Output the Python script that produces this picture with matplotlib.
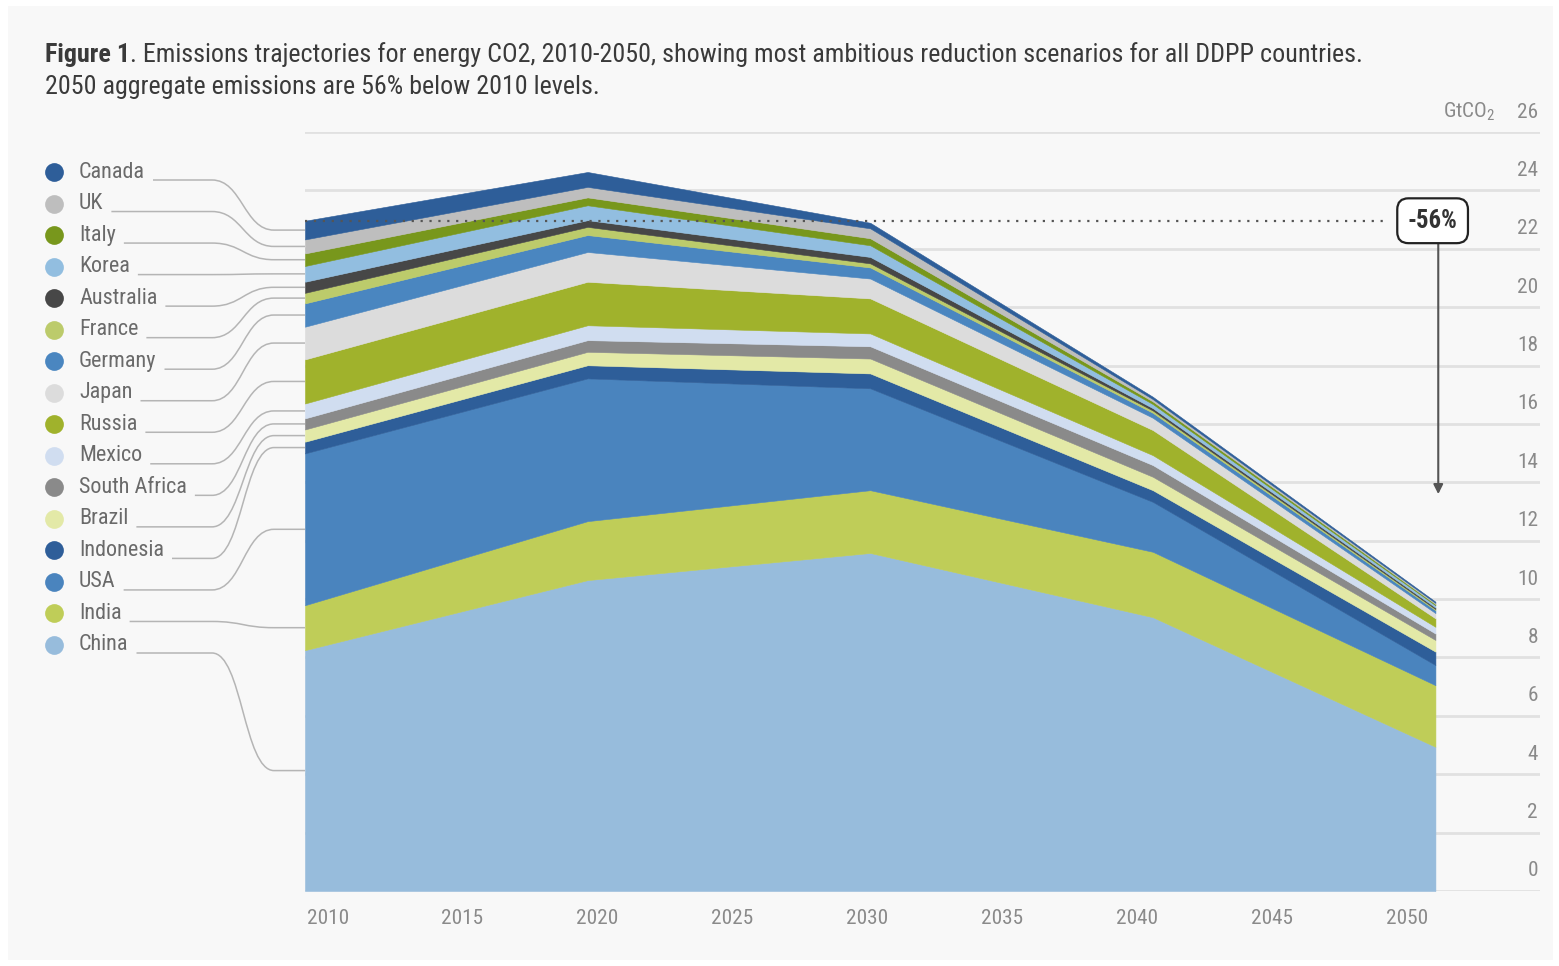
"""DDPP energy CO2 trajectories, stacked by country (2010-2050)"""

import matplotlib
matplotlib.use('Agg')
import matplotlib.pyplot as plt
import numpy as np
from matplotlib import font_manager
from matplotlib.path import Path
from matplotlib.patches import PathPatch, Rectangle
from matplotlib.transforms import offset_copy

# --- data (GtCO2), bottom of the stack first ---
years = [2010, 2020, 2030, 2040, 2050]
countries = ['China', 'India', 'USA', 'Indonesia', 'Brazil', 'South Africa', 'Mexico',
             'Russia', 'Japan', 'Germany', 'France', 'Australia', 'Korea', 'Italy', 'UK', 'Canada']
china = [8.25, 10.65, 11.58, 9.38, 4.94]
india = [1.54, 2.02, 2.15, 2.24, 2.11]
usa = [5.20, 4.89, 3.49, 1.71, 0.69]
indonesia = [0.40, 0.45, 0.51, 0.40, 0.46]
brazil = [0.42, 0.46, 0.51, 0.46, 0.40]
south_africa = [0.38, 0.40, 0.42, 0.40, 0.22]
mexico = [0.51, 0.51, 0.44, 0.34, 0.23]
russia = [1.51, 1.49, 1.20, 0.86, 0.29]
japan = [1.12, 1.02, 0.68, 0.42, 0.18]
germany = [0.80, 0.58, 0.38, 0.17, 0.10]
france = [0.36, 0.28, 0.14, 0.08, 0.04]
australia = [0.38, 0.23, 0.22, 0.08, 0.05]
korea = [0.54, 0.51, 0.40, 0.14, 0.08]
italy = [0.43, 0.27, 0.24, 0.09, 0.04]
uk = [0.48, 0.36, 0.34, 0.08, 0.04]
canada = [0.64, 0.51, 0.19, 0.08, 0.04]
series = [china, india, usa, indonesia, brazil, south_africa, mexico, russia,
          japan, germany, france, australia, korea, italy, uk, canada]
colors = ['#97bcdc', '#bfcd58', '#4a84be', '#2e5e99', '#e3e9a7', '#8a8a8a', '#d0ddf0',
          '#a0b22c', '#dcdcdc', '#4a86c0', '#bccb6b', '#474747', '#92bee0', '#78971c',
          '#bebebe', '#2e5e99']

y_ticks = list(range(0, 27, 2))
x_tick_labels = ['2010', '2015', '2020', '2025', '2030', '2035', '2040', '2045', '2050']
reduction_label = '-56%'
title_1 = ('. Emissions trajectories for energy CO2, 2010-2050, showing most ambitious '
           'reduction scenarios for all DDPP countries.')
title_2 = '2050 aggregate emissions are 56% below 2010 levels.'

# fonts: the original uses a condensed face, take the narrowest one installed
names = {f.name for f in font_manager.fontManager.ttflist}
wanted = ['Roboto Condensed', 'Noto Sans Condensed', 'Open Sans Condensed',
          'Liberation Sans Narrow', 'Liberation Sans', 'Roboto', 'DejaVu Sans']
cond = next(n for n in wanted if n in names or n == 'DejaVu Sans')
plt.rcParams['font.family'] = [cond, 'DejaVu Sans']
plt.rcParams['mathtext.default'] = 'regular'

W, H = 1559, 966
fig = plt.figure(figsize=(W / 100, H / 100), dpi=100, facecolor='white')
fig.canvas.draw()
renderer = fig.canvas.get_renderer()


def fit_size(text, target_px, weight='normal'):
    """font size (pt) that makes text about target_px wide"""
    t = fig.text(0, 0, text, fontsize=20, fontweight=weight)
    w = t.get_window_extent(renderer).width
    t.remove()
    return 20 * target_px / w


# background overlay in pixel coords (origin top-left)
bg = fig.add_axes([0, 0, 1, 1])
bg.set_xlim(0, W)
bg.set_ylim(H, 0)
bg.axis('off')
bg.add_patch(Rectangle((8, 6), 1545, 954, facecolor='#f8f8f8', edgecolor='none', zorder=0))

tick_fs = min(fit_size('2010', 42), 17)
legend_fs = min(fit_size('South Africa', 108), 17)
title_fs = fit_size('Figure 1' + title_1, 1312)
box_fs = min(fit_size(reduction_label, 50, 'bold'), 19)

# main axes
ax = fig.add_axes([305 / W, 1 - 891 / H, (1540 - 305) / W, (891 - 132) / H])
ax.set_facecolor('none')
ax.set_xlim(2010, 2053.7)
ax.set_ylim(0, 26)
for s in ax.spines.values():
    s.set_visible(False)

for v in y_ticks:
    ax.axhline(v, color='#e1e1e1', lw=2, zorder=0)

stack = np.cumsum(np.array(series), axis=0)
lower = np.zeros(len(years))
for top, c in zip(stack, colors):
    ax.fill_between(years, lower, top, color=c, lw=0.4, edgecolor=c, zorder=2)
    lower = top

# y tick labels sit above their grid lines, at the right
lab_tr = offset_copy(ax.transData, fig=fig, x=-2, y=20, units='dots')
for v in y_ticks:
    ax.text(2053.7, v, str(v), transform=lab_tr, ha='right', va='center',
            fontsize=tick_fs, color='#8a8a8a', clip_on=False)
ax.text(2052.2, 26, 'GtCO$_2$', transform=lab_tr, ha='right', va='center',
        fontsize=tick_fs, color='#8a8a8a', clip_on=False)

ax.set_yticks([])
ax.set_xticks(np.linspace(2010.8, 2049.0, 9), x_tick_labels)
ax.tick_params(axis='x', length=0, pad=13, labelsize=tick_fs, labelcolor='#8a8a8a')

# reference line and reduction marker
total_2010 = stack[-1][0]
ax.plot([2010, 2048.3], [total_2010, total_2010], ls=(0, (1, 3)), color='#555555',
        lw=1.6, zorder=5)
ax.annotate('', xy=(2050.1, 13.5), xytext=(2050.1, total_2010),
            arrowprops=dict(arrowstyle='-|>', color='#555555', lw=1.5, mutation_scale=14),
            zorder=5)
ax.text(2049.9, total_2010, reduction_label, ha='center', va='center', fontsize=box_fs,
        fontweight='bold', color='#333333', zorder=6,
        bbox=dict(boxstyle='round,pad=0.42,rounding_size=0.45', fc='white', ec='#222222', lw=1.6))

# title
t1 = bg.text(45, 55, 'Figure 1', fontsize=title_fs, fontweight='bold', color='#3a3a3a',
             va='center')
ext = t1.get_window_extent(renderer)
x_after = bg.transData.inverted().transform((ext.x1, 0))[0]
bg.text(x_after, 55, title_1, fontsize=title_fs, color='#3a3a3a', va='center')
bg.text(45, 87, title_2, fontsize=title_fs, color='#3a3a3a', va='center')

# legend with leader lines to the 2010 edge of each band
label_y = np.linspace(172, 645, 16)
x_edge_disp = ax.transData.transform((2010, 0))[0]
x_edge = bg.transData.inverted().transform((x_edge_disp, 0))[0]
for i, name in enumerate(countries[::-1]):
    k = len(countries) - 1 - i
    c = colors[k]
    ly = label_y[i]
    bg.plot(54, ly, 'o', ms=13.5, color=c, mec='none', zorder=3)
    t = bg.text(79, ly, name, fontsize=legend_fs, color='#6a6a6a', va='center', zorder=3)
    tx1 = bg.transData.inverted().transform((t.get_window_extent(renderer).x1, 0))[0]
    mid = stack[k][0] - series[k][0] / 2
    ty = bg.transData.inverted().transform(ax.transData.transform((2010, mid)))[1]
    yl = ly + 8
    xb, xe = 212, 274
    verts = [(tx1 + 8, yl), (xb, yl), (xb + 30, yl), (xe - 30, ty), (xe, ty), (x_edge, ty)]
    codes = [Path.MOVETO, Path.LINETO, Path.CURVE4, Path.CURVE4, Path.CURVE4, Path.LINETO]
    bg.add_patch(PathPatch(Path(verts, codes), fill=False, ec='#b5b5b5', lw=1.1, zorder=2))

fig.savefig('out.png', dpi=100)
